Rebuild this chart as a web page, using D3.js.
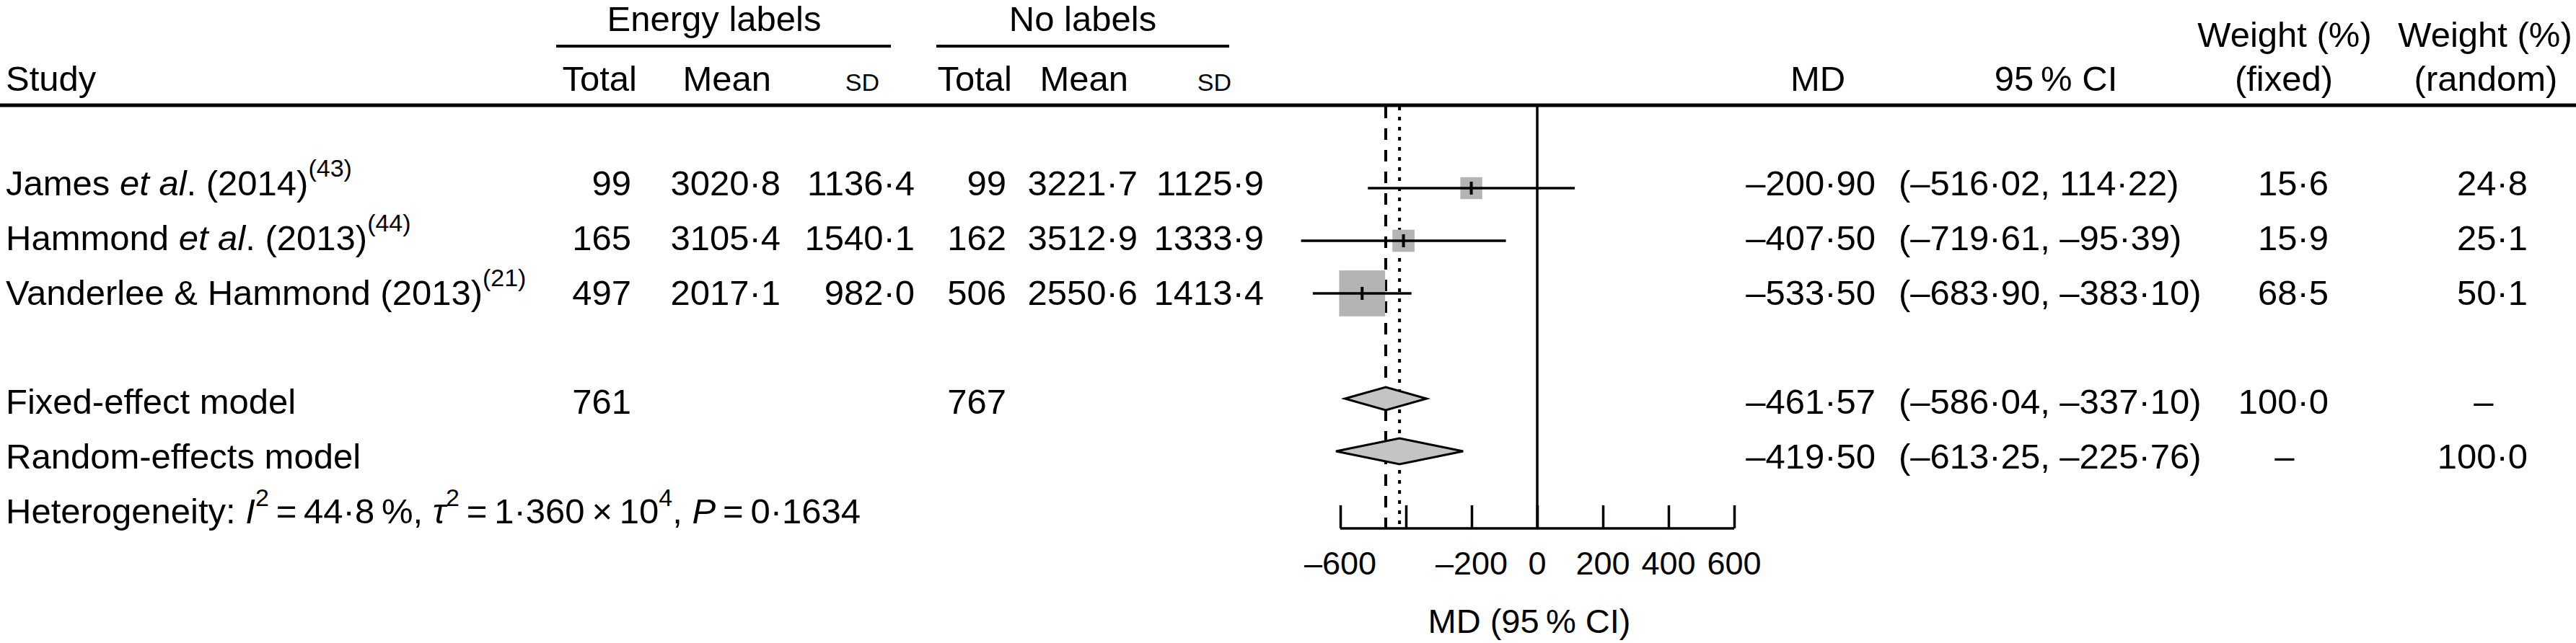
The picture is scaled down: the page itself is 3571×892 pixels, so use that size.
<!DOCTYPE html>
<html>
<head>
<meta charset="utf-8">
<script src="https://cdn.jsdelivr.net/npm/d3@7"></script>
<style>
  body { margin: 0; background: #fff; }
  text { font-family: "Liberation Sans", Arial, Helvetica, sans-serif; fill: #000; }
</style>
</head>
<body>
<script>

//----------------data-------------------------------------

let studyAuthors = ["James", "Hammond", "Vanderlee & Hammond"];
let studyEtAl = [true, true, false];
let studyYears = ["2014", "2013", "2013"];
let studyRefs = ["43", "44", "21"];

let eTotal = [99, 165, 497];
let eMean = [3020.8, 3105.4, 2017.1];
let eSD = [1136.4, 1540.1, 982.0];
let nTotal = [99, 162, 506];
let nMean = [3221.7, 3512.9, 2550.6];
let nSD = [1125.9, 1333.9, 1413.4];

let md = [-200.90, -407.50, -533.50];
let ciLow = [-516.02, -719.61, -683.90];
let ciHigh = [114.22, -95.39, -383.10];
let wFixed = [15.6, 15.9, 68.5];
let wRandom = [24.8, 25.1, 50.1];

let models = ["Fixed-effect model", "Random-effects model"];
let modelETotal = [761, null];
let modelNTotal = [767, null];
let modelMD = [-461.57, -419.50];
let modelLow = [-586.04, -613.25];
let modelHigh = [-337.10, -225.76];
let modelWFixed = [100.0, null];
let modelWRandom = [null, 100.0];

let xTicks = [-600, -400, -200, 0, 200, 400, 600];
let xTickLabels = ["–600", "", "–200", "0", "200", "400", "600"];


//----------------layout-------------------------------------

const W = 3571, H = 892;
const FS = 49;

let svg = d3.select("body").append("svg")
  .attr("width", W)
  .attr("height", H);

svg.append("rect").attr("width", W).attr("height", H).attr("fill", "#fff");

// rows: 0-2 studies, 3 blank, 4 fixed, 5 random, 6 heterogeneity
let textY = d3.scaleLinear().domain([0, 6]).range([271, 726]);
let markY = d3.scaleLinear().domain([0, 5]).range([261, 626]);

let x = d3.scaleLinear().domain([-600, 600]).range([1858, 2404]);

let fmt = function(v, p) {
  return d3.format("." + p + "f")(v).replace(/[-−]/, "–").replace(".", "·");
};

// right edges of columns
let col = {
  eTotal: 875, eMean: 1082, eSD: 1268,
  nTotal: 1395, nMean: 1577, nSD: 1752,
  md: 2600, ci: 2632, wf: 3228, wr: 3504
};


//----------------header-------------------------------------

let head = svg.append("g").style("font-size", FS + "px");

head.append("text").attr("x", 990).attr("y", 43).attr("text-anchor", "middle").text("Energy labels");
head.append("text").attr("x", 1501).attr("y", 43).attr("text-anchor", "middle").text("No labels");

head.append("line").attr("x1", 771).attr("x2", 1235).attr("y1", 64).attr("y2", 64)
  .attr("stroke", "#000").attr("stroke-width", 4);
head.append("line").attr("x1", 1298).attr("x2", 1704).attr("y1", 64).attr("y2", 64)
  .attr("stroke", "#000").attr("stroke-width", 4);

head.append("text").attr("x", 8).attr("y", 126).text("Study");
head.append("text").attr("x", 883).attr("y", 126).attr("text-anchor", "end").text("Total");
head.append("text").attr("x", 1069).attr("y", 126).attr("text-anchor", "end").text("Mean");
head.append("text").attr("x", 1219).attr("y", 126).attr("text-anchor", "end").style("font-size", "34px").text("SD");
head.append("text").attr("x", 1403).attr("y", 126).attr("text-anchor", "end").text("Total");
head.append("text").attr("x", 1564).attr("y", 126).attr("text-anchor", "end").text("Mean");
head.append("text").attr("x", 1707).attr("y", 126).attr("text-anchor", "end").style("font-size", "34px").text("SD");

head.append("text").attr("x", 2520).attr("y", 126).attr("text-anchor", "middle").text("MD");
head.append("text").attr("x", 2850).attr("y", 126).attr("text-anchor", "middle").text("95\u2009% CI");
head.append("text").attr("x", 3167).attr("y", 65).attr("text-anchor", "middle").text("Weight (%)");
head.append("text").attr("x", 3166).attr("y", 126).attr("text-anchor", "middle").text("(fixed)");
head.append("text").attr("x", 3445).attr("y", 65).attr("text-anchor", "middle").text("Weight (%)");
head.append("text").attr("x", 3446).attr("y", 126).attr("text-anchor", "middle").text("(random)");

head.append("line").attr("x1", 0).attr("x2", W).attr("y1", 146).attr("y2", 146)
  .attr("stroke", "#000").attr("stroke-width", 5);


//----------------plot-------------------------------------

let plot = svg.append("g");
let yTop = 148, yAxis = 733;

plot.append("line")
  .attr("x1", x(0)).attr("x2", x(0)).attr("y1", yTop).attr("y2", yAxis)
  .attr("stroke", "#000").attr("stroke-width", 3.5);

plot.append("line")
  .attr("x1", x(modelMD[0])).attr("x2", x(modelMD[0])).attr("y1", yTop).attr("y2", yAxis)
  .attr("stroke", "#000").attr("stroke-width", 4).attr("stroke-dasharray", "16,14");

plot.append("line")
  .attr("x1", x(modelMD[1])).attr("x2", x(modelMD[1])).attr("y1", yTop).attr("y2", yAxis)
  .attr("stroke", "#000").attr("stroke-width", 4).attr("stroke-dasharray", "5,9");

// squares sized by fixed weight
let boxSize = d3.scaleSqrt().domain([0, 100]).range([0, 77]);

plot.selectAll(".box")
  .data(md)
  .enter().append("rect")
  .attr("class", "box")
  .attr("x", (d, i) => x(d) - boxSize(wFixed[i]) / 2)
  .attr("y", (d, i) => markY(i) - boxSize(wFixed[i]) / 2)
  .attr("width", (d, i) => boxSize(wFixed[i]))
  .attr("height", (d, i) => boxSize(wFixed[i]))
  .attr("fill", "#b4b4b4");

plot.selectAll(".ci")
  .data(md)
  .enter().append("line")
  .attr("class", "ci")
  .attr("x1", (d, i) => x(ciLow[i]))
  .attr("x2", (d, i) => x(ciHigh[i]))
  .attr("y1", (d, i) => markY(i))
  .attr("y2", (d, i) => markY(i))
  .attr("stroke", "#000").attr("stroke-width", 3.5);

plot.selectAll(".pt")
  .data(md)
  .enter().append("line")
  .attr("class", "pt")
  .attr("x1", d => x(d)).attr("x2", d => x(d))
  .attr("y1", (d, i) => markY(i) - 9)
  .attr("y2", (d, i) => markY(i) + 9)
  .attr("stroke", "#000").attr("stroke-width", 4);

// summary diamonds
let diamondHalf = [16, 18];
plot.selectAll(".diamond")
  .data(modelMD)
  .enter().append("path")
  .attr("class", "diamond")
  .attr("d", function(d, i) {
    let cy = markY(4 + i), h = diamondHalf[i];
    return "M" + x(modelLow[i]) + "," + cy +
      "L" + x(d) + "," + (cy - h) +
      "L" + x(modelHigh[i]) + "," + cy +
      "L" + x(d) + "," + (cy + h) + "Z";
  })
  .attr("fill", "#c4c4c4")
  .attr("stroke", "#000")
  .attr("stroke-width", 3);

// axis, ticks pointing up
let axis = plot.append("g")
  .attr("transform", "translate(0," + yAxis + ")")
  .call(d3.axisTop(x).tickValues(xTicks).tickSize(32).tickFormat(""));

axis.select(".domain").attr("d", "M" + x(-600) + ",0H" + x(600))
  .attr("stroke-width", 3.5);
axis.selectAll(".tick line").attr("stroke-width", 3.5);

plot.selectAll(".xlab")
  .data(xTicks)
  .enter().append("text")
  .attr("class", "xlab")
  .attr("x", d => x(d))
  .attr("y", 797)
  .attr("text-anchor", "middle")
  .style("font-size", "45px")
  .text((d, i) => xTickLabels[i]);

plot.append("text")
  .attr("x", 2120).attr("y", 878)
  .attr("text-anchor", "middle")
  .style("font-size", "47px")
  .text("MD (95\u2009% CI)");


//----------------table body-------------------------------------

let body = svg.append("g").style("font-size", FS + "px");

studyAuthors.forEach(function(a, i) {
  let t = body.append("text").attr("x", 8).attr("y", textY(i));
  t.append("tspan").text(a + " ");
  if (studyEtAl[i]) {
    t.append("tspan").style("font-style", "italic").text("et al");
    t.append("tspan").text(". ");
  }
  t.append("tspan").text("(" + studyYears[i] + ")");
  t.append("tspan").attr("dy", -26).style("font-size", "34px").text("(" + studyRefs[i] + ")");
});

function numCol(values, xr, p) {
  body.selectAll(null)
    .data(values)
    .enter().append("text")
    .attr("x", xr)
    .attr("y", (d, i) => textY(i))
    .attr("text-anchor", "end")
    .text(d => p === 0 ? d : fmt(d, p));
}

numCol(eTotal, col.eTotal, 0);
numCol(eMean, col.eMean, 1);
numCol(eSD, col.eSD, 1);
numCol(nTotal, col.nTotal, 0);
numCol(nMean, col.nMean, 1);
numCol(nSD, col.nSD, 1);
numCol(md, col.md, 2);
numCol(wFixed, col.wf, 1);
numCol(wRandom, col.wr, 1);

body.selectAll(".citext")
  .data(md)
  .enter().append("text")
  .attr("x", col.ci)
  .attr("y", (d, i) => textY(i))
  .text((d, i) => "(" + fmt(ciLow[i], 2) + ", " + fmt(ciHigh[i], 2) + ")");

// summary rows
models.forEach(function(m, k) {
  let yy = textY(4 + k);
  body.append("text").attr("x", 8).attr("y", yy).text(m);
  if (modelETotal[k] !== null)
    body.append("text").attr("x", col.eTotal).attr("y", yy).attr("text-anchor", "end").text(modelETotal[k]);
  if (modelNTotal[k] !== null)
    body.append("text").attr("x", col.nTotal).attr("y", yy).attr("text-anchor", "end").text(modelNTotal[k]);
  body.append("text").attr("x", col.md).attr("y", yy).attr("text-anchor", "end").text(fmt(modelMD[k], 2));
  body.append("text").attr("x", col.ci).attr("y", yy)
    .text("(" + fmt(modelLow[k], 2) + ", " + fmt(modelHigh[k], 2) + ")");
  if (modelWFixed[k] !== null)
    body.append("text").attr("x", col.wf).attr("y", yy).attr("text-anchor", "end").text(fmt(modelWFixed[k], 1));
  else
    body.append("text").attr("x", 3167).attr("y", yy).attr("text-anchor", "middle").text("–");
  if (modelWRandom[k] !== null)
    body.append("text").attr("x", col.wr).attr("y", yy).attr("text-anchor", "end").text(fmt(modelWRandom[k], 1));
  else
    body.append("text").attr("x", 3443).attr("y", yy).attr("text-anchor", "middle").text("–");
});

// heterogeneity line
let het = body.append("text").attr("x", 8).attr("y", textY(6));
het.append("tspan").text("Heterogeneity: ");
het.append("tspan").style("font-style", "italic").text("I");
het.append("tspan").attr("dy", -24).style("font-size", "34px").text("2");
het.append("tspan").attr("dy", 24).text("\u2009=\u200944·8\u2009%, ");
het.append("tspan").style("font-style", "italic").text("τ");
het.append("tspan").attr("dy", -24).style("font-size", "34px").text("2");
het.append("tspan").attr("dy", 24).text("\u2009=\u20091·360\u2009×\u200910");
het.append("tspan").attr("dy", -24).style("font-size", "34px").text("4");
het.append("tspan").attr("dy", 24).text(", ");
het.append("tspan").style("font-style", "italic").text("P");
het.append("tspan").text("\u2009=\u20090·1634");

</script>
</body>
</html>
